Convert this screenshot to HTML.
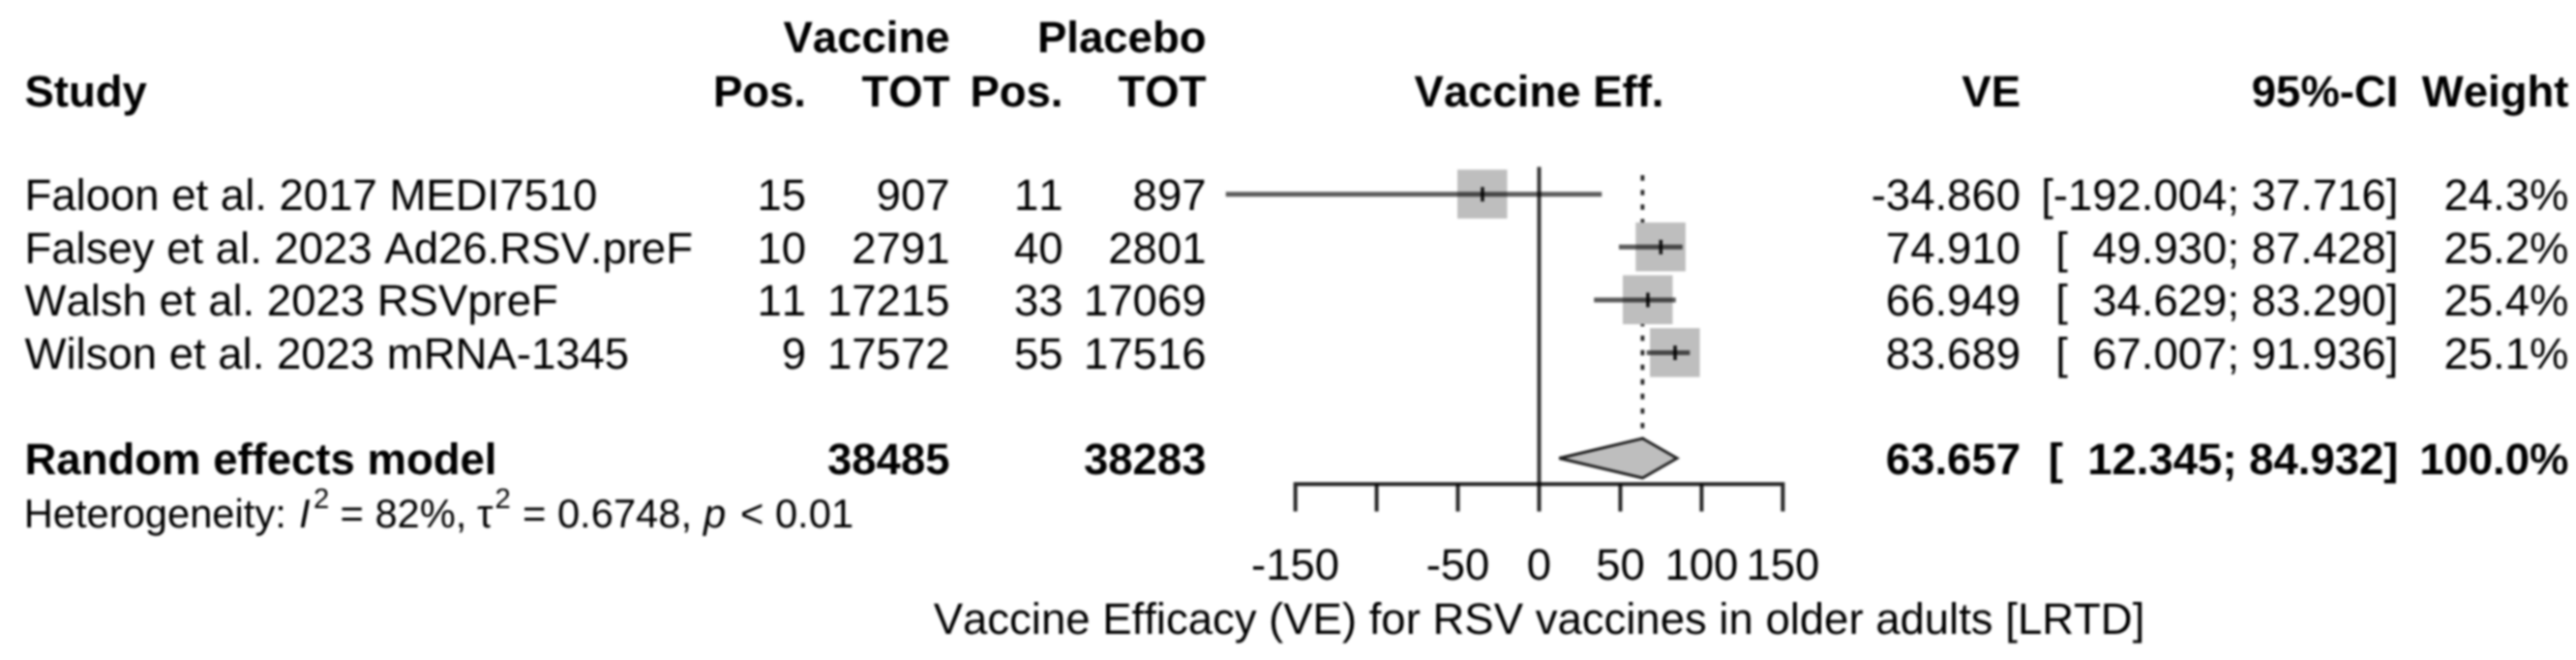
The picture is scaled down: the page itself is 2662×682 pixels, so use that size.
<!DOCTYPE html>
<html><head><meta charset="utf-8"><title>Forest plot</title>
<style>
html,body{margin:0;padding:0;background:#fff;}
body{width:2662px;height:682px;overflow:hidden;}
svg{display:block;filter:blur(1.3px);}
text{font-family:"Liberation Sans",sans-serif;fill:#000;white-space:pre;font-kerning:none;font-variant-ligatures:none;text-rendering:geometricPrecision;}
</style></head><body>
<svg width="2662" height="682" viewBox="0 0 2662 682">
<rect width="2662" height="682" fill="#fff"/>
<text x="981.5" y="54" text-anchor="end" style="font-size:45.5px;font-weight:bold;">Vaccine</text>
<text x="1246.5" y="54" text-anchor="end" style="font-size:45.5px;font-weight:bold;">Placebo</text>
<text x="25.5" y="109.75" text-anchor="start" style="font-size:45.5px;font-weight:bold;">Study</text>
<text x="833" y="109.75" text-anchor="end" style="font-size:45.5px;font-weight:bold;">Pos.</text>
<text x="981.5" y="109.75" text-anchor="end" style="font-size:45.5px;font-weight:bold;">TOT</text>
<text x="1098.5" y="109.75" text-anchor="end" style="font-size:45.5px;font-weight:bold;">Pos.</text>
<text x="1246.5" y="109.75" text-anchor="end" style="font-size:45.5px;font-weight:bold;">TOT</text>
<text x="1590.5" y="109.75" text-anchor="middle" style="font-size:45.5px;font-weight:bold;">Vaccine Eff.</text>
<text x="2088" y="109.75" text-anchor="end" style="font-size:45.5px;font-weight:bold;">VE</text>
<text x="2478.5" y="109.75" text-anchor="end" style="font-size:45.5px;font-weight:bold;">95%-CI</text>
<text x="2654.5" y="109.75" text-anchor="end" style="font-size:45.5px;font-weight:bold;">Weight</text>
<line x1="1590.5" y1="172.5" x2="1590.5" y2="500" stroke="#000" stroke-opacity="0.8" stroke-width="4.0"/>
<line x1="1697.38" y1="181.10" x2="1697.38" y2="453" stroke="#000" stroke-opacity="0.85" stroke-width="3.8" stroke-dasharray="5.6 9.45"/>
<rect x="1506.02" y="175.30" width="51.5" height="50.5" fill="#bebebe"/>
<rect x="1690.32" y="229.90" width="51.5" height="50.5" fill="#bebebe"/>
<rect x="1676.96" y="284.50" width="51.5" height="50.5" fill="#bebebe"/>
<rect x="1705.06" y="339.10" width="51.5" height="50.5" fill="#bebebe"/>
<line x1="1266.73" y1="200.75" x2="1655.23" y2="200.75" stroke="#000" stroke-opacity="0.64" stroke-width="5.0"/>
<line x1="1531.97" y1="193.25" x2="1531.97" y2="208.25" stroke="#000" stroke-opacity="0.9" stroke-width="3.6"/>
<line x1="1672.93" y1="255.35" x2="1738.69" y2="255.35" stroke="#000" stroke-opacity="0.64" stroke-width="5.0"/>
<line x1="1716.27" y1="247.85" x2="1716.27" y2="262.85" stroke="#000" stroke-opacity="0.9" stroke-width="3.6"/>
<line x1="1647.24" y1="309.95" x2="1731.74" y2="309.95" stroke="#000" stroke-opacity="0.64" stroke-width="5.0"/>
<line x1="1702.91" y1="302.45" x2="1702.91" y2="317.45" stroke="#000" stroke-opacity="0.9" stroke-width="3.6"/>
<line x1="1701.60" y1="364.55" x2="1746.26" y2="364.55" stroke="#000" stroke-opacity="0.64" stroke-width="5.0"/>
<line x1="1731.01" y1="357.05" x2="1731.01" y2="372.05" stroke="#000" stroke-opacity="0.9" stroke-width="3.6"/>
<polygon points="1611.23,473.5 1697.38,453.1 1733.10,473.5 1697.38,493.9" fill="#bebebe" stroke="#000" stroke-opacity="0.85" stroke-width="2.9" stroke-linejoin="miter"/>
<path d="M1338.65 528.55 V500.25 H1842.35 V528.55" fill="none" stroke="#000" stroke-opacity="0.85" stroke-width="4.0" stroke-linejoin="miter"/>
<line x1="1422.60" y1="500.25" x2="1422.60" y2="528.55" stroke="#000" stroke-opacity="0.85" stroke-width="4.0"/>
<line x1="1506.55" y1="500.25" x2="1506.55" y2="528.55" stroke="#000" stroke-opacity="0.85" stroke-width="4.0"/>
<line x1="1590.50" y1="500.25" x2="1590.50" y2="528.55" stroke="#000" stroke-opacity="0.85" stroke-width="4.0"/>
<line x1="1674.45" y1="500.25" x2="1674.45" y2="528.55" stroke="#000" stroke-opacity="0.85" stroke-width="4.0"/>
<line x1="1758.40" y1="500.25" x2="1758.40" y2="528.55" stroke="#000" stroke-opacity="0.85" stroke-width="4.0"/>
<text x="25.5" y="217.0" text-anchor="start" style="font-size:45.5px;">Faloon et al. 2017 MEDI7510</text>
<text x="833" y="217.0" text-anchor="end" style="font-size:45.5px;">15</text>
<text x="981.5" y="217.0" text-anchor="end" style="font-size:45.5px;">907</text>
<text x="1098.5" y="217.0" text-anchor="end" style="font-size:45.5px;">11</text>
<text x="1246.5" y="217.0" text-anchor="end" style="font-size:45.5px;">897</text>
<text x="2088" y="217.0" text-anchor="end" style="font-size:45.5px;">-34.860</text>
<text x="2478.5" y="217.0" text-anchor="end" style="font-size:45.5px;">[-192.004; 37.716]</text>
<text x="2654.5" y="217.0" text-anchor="end" style="font-size:45.5px;">24.3%</text>
<text x="25.5" y="271.6" text-anchor="start" style="font-size:45.5px;">Falsey et al. 2023 Ad26.RSV.preF</text>
<text x="833" y="271.6" text-anchor="end" style="font-size:45.5px;">10</text>
<text x="981.5" y="271.6" text-anchor="end" style="font-size:45.5px;">2791</text>
<text x="1098.5" y="271.6" text-anchor="end" style="font-size:45.5px;">40</text>
<text x="1246.5" y="271.6" text-anchor="end" style="font-size:45.5px;">2801</text>
<text x="2088" y="271.6" text-anchor="end" style="font-size:45.5px;">74.910</text>
<text x="2478.5" y="271.6" text-anchor="end" style="font-size:45.5px;">[  49.930; 87.428]</text>
<text x="2654.5" y="271.6" text-anchor="end" style="font-size:45.5px;">25.2%</text>
<text x="25.5" y="326.2" text-anchor="start" style="font-size:45.5px;">Walsh et al. 2023 RSVpreF</text>
<text x="833" y="326.2" text-anchor="end" style="font-size:45.5px;">11</text>
<text x="981.5" y="326.2" text-anchor="end" style="font-size:45.5px;">17215</text>
<text x="1098.5" y="326.2" text-anchor="end" style="font-size:45.5px;">33</text>
<text x="1246.5" y="326.2" text-anchor="end" style="font-size:45.5px;">17069</text>
<text x="2088" y="326.2" text-anchor="end" style="font-size:45.5px;">66.949</text>
<text x="2478.5" y="326.2" text-anchor="end" style="font-size:45.5px;">[  34.629; 83.290]</text>
<text x="2654.5" y="326.2" text-anchor="end" style="font-size:45.5px;">25.4%</text>
<text x="25.5" y="380.8" text-anchor="start" style="font-size:45.5px;">Wilson et al. 2023 mRNA-1345</text>
<text x="833" y="380.8" text-anchor="end" style="font-size:45.5px;">9</text>
<text x="981.5" y="380.8" text-anchor="end" style="font-size:45.5px;">17572</text>
<text x="1098.5" y="380.8" text-anchor="end" style="font-size:45.5px;">55</text>
<text x="1246.5" y="380.8" text-anchor="end" style="font-size:45.5px;">17516</text>
<text x="2088" y="380.8" text-anchor="end" style="font-size:45.5px;">83.689</text>
<text x="2478.5" y="380.8" text-anchor="end" style="font-size:45.5px;">[  67.007; 91.936]</text>
<text x="2654.5" y="380.8" text-anchor="end" style="font-size:45.5px;">25.1%</text>
<text x="25.5" y="489.5" text-anchor="start" style="font-size:45.5px;font-weight:bold;">Random effects model</text>
<text x="981.5" y="489.5" text-anchor="end" style="font-size:45.5px;font-weight:bold;">38485</text>
<text x="1246.5" y="489.5" text-anchor="end" style="font-size:45.5px;font-weight:bold;">38283</text>
<text x="2088" y="489.5" text-anchor="end" style="font-size:45.5px;font-weight:bold;">63.657</text>
<text x="2478.5" y="489.5" text-anchor="end" style="font-size:45.5px;font-weight:bold;">[  12.345; 84.932]</text>
<text x="2654.5" y="489.5" text-anchor="end" style="font-size:45.5px;font-weight:bold;">100.0%</text>
<text x="24.7" y="545" text-anchor="start" style="font-size:41.7px;">Heterogeneity: </text>
<text x="309" y="545" text-anchor="start" style="font-size:41.7px;font-style:italic;">I</text>
<text x="324" y="525" text-anchor="start" style="font-size:29.2px;">2</text>
<text x="351.5" y="545" text-anchor="start" style="font-size:41.7px;">= 82%, </text>
<text x="493" y="545" text-anchor="start" style="font-size:41.7px;">τ</text>
<text x="511.5" y="525" text-anchor="start" style="font-size:29.2px;">2</text>
<text x="540" y="545" text-anchor="start" style="font-size:41.7px;">= 0.6748, </text>
<text x="727" y="545" text-anchor="start" style="font-size:41.7px;font-style:italic;">p</text>
<text x="765" y="545" text-anchor="start" style="font-size:41.7px;">&lt; 0.01</text>
<text x="1338.65" y="599" text-anchor="middle" style="font-size:45.5px;">-150</text>
<text x="1506.55" y="599" text-anchor="middle" style="font-size:45.5px;">-50</text>
<text x="1590.50" y="599" text-anchor="middle" style="font-size:45.5px;">0</text>
<text x="1674.45" y="599" text-anchor="middle" style="font-size:45.5px;">50</text>
<text x="1758.40" y="599" text-anchor="middle" style="font-size:45.5px;">100</text>
<text x="1842.35" y="599" text-anchor="middle" style="font-size:45.5px;">150</text>
<text x="1590.5" y="654.5" text-anchor="middle" style="font-size:45.5px;">Vaccine Efficacy (VE) for RSV vaccines in older adults [LRTD]</text>
</svg>
</body></html>
